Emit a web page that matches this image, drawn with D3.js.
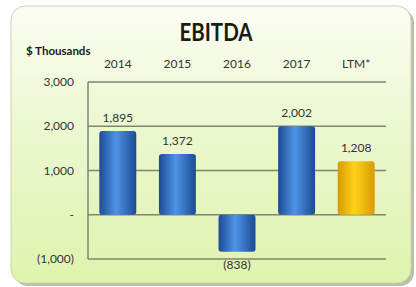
<!DOCTYPE html>
<html lang="en">
<head>
<meta charset="utf-8">
<script src="https://d3js.org/d3.v7.min.js"></script>
<style>
  body { margin: 0; background: #fff; }
  text { font-family: Lato, "Open Sans", sans-serif; fill: #333; }
</style>
</head>
<body>
<div id="chart"></div>
<script>
// chart data
const categories = ["2014", "2015", "2016", "2017", "LTM*"];
const ebitda = [1895, 1372, -838, 2002, 1208];
const highlight = ["LTM*"];
const tickValues = [-1000, 0, 1000, 2000, 3000];

const W = 416, H = 287;
const margin = {top: 82, right: 30, bottom: 28, left: 88};

const svg = d3.select("#chart").append("svg")
  .attr("width", W).attr("height", H);

const defs = svg.append("defs");

const panelGrad = defs.append("linearGradient").attr("id", "panel")
  .attr("x1", 0).attr("y1", 0).attr("x2", 0).attr("y2", 1);
panelGrad.append("stop").attr("offset", "0%").attr("stop-color", "#fbfdf3");
panelGrad.append("stop").attr("offset", "35%").attr("stop-color", "#eef8d6");
panelGrad.append("stop").attr("offset", "100%").attr("stop-color", "#dff3ac");

function cylinder(id, edge, mid) {
  const g = defs.append("linearGradient").attr("id", id)
    .attr("x1", 0).attr("y1", 0).attr("x2", 1).attr("y2", 0);
  g.append("stop").attr("offset", "0%").attr("stop-color", edge);
  g.append("stop").attr("offset", "45%").attr("stop-color", mid);
  g.append("stop").attr("offset", "100%").attr("stop-color", edge);
}
cylinder("blueBar", "#1c4b94", "#4f93e6");
cylinder("goldBar", "#d99a00", "#ffd21a");

// panel with shadow
svg.append("rect")
  .attr("x", 14).attr("y", 9).attr("width", 400).attr("height", 277)
  .attr("rx", 14).attr("fill", "#b9c0a6");
svg.append("rect")
  .attr("x", 11).attr("y", 6).attr("width", 400).attr("height", 277)
  .attr("rx", 14).attr("fill", "url(#panel)")
  .attr("stroke", "#c9d3b0").attr("stroke-width", 1);

const width = W - margin.left - margin.right;   // 298
const height = H - margin.top - margin.bottom;

const x = d3.scaleBand().domain(categories)
  .range([margin.left, margin.left + width]).paddingInner(0.38).paddingOuter(0.19);
const y = d3.scaleLinear().domain([-1000, 3000])
  .range([259, 82]);

// gridlines
svg.append("g").selectAll("line")
  .data(tickValues).join("line")
  .attr("x1", margin.left).attr("x2", margin.left + width)
  .attr("y1", d => y(d)).attr("y2", d => y(d))
  .attr("stroke", "#7f8474").attr("stroke-width", 1.5);

// left axis line
svg.append("line")
  .attr("x1", margin.left).attr("x2", margin.left)
  .attr("y1", y(3000)).attr("y2", y(-1000))
  .attr("stroke", "#7f8474").attr("stroke-width", 1.5);

// y tick labels
const fmt = v => v === 0 ? "-" : v < 0 ? "(" + d3.format(",")(-v) + ")" : d3.format(",")(v);
svg.append("g").selectAll("text")
  .data(tickValues).join("text")
  .attr("x", 74).attr("y", d => y(d)).attr("dy", "0.35em")
  .attr("text-anchor", "end").attr("font-size", 12)
  .text(fmt);

// category labels along the top
svg.append("g").selectAll("text")
  .data(categories).join("text")
  .attr("x", d => x(d) + x.bandwidth() / 2).attr("y", 64).attr("dy", "0.35em")
  .attr("text-anchor", "middle").attr("font-size", 12)
  .text(d => d);

// bars
svg.append("g").selectAll("rect")
  .data(categories).join("rect")
  .attr("x", d => x(d))
  .attr("width", x.bandwidth())
  .attr("y", (d, i) => y(Math.max(0, ebitda[i])))
  .attr("height", (d, i) => Math.abs(y(ebitda[i]) - y(0)))
  .attr("rx", 3)
  .attr("fill", d => highlight.includes(d) ? "url(#goldBar)" : "url(#blueBar)");

// value labels
svg.append("g").selectAll("text")
  .data(categories).join("text")
  .attr("x", d => x(d) + x.bandwidth() / 2)
  .attr("y", (d, i) => ebitda[i] >= 0 ? y(ebitda[i]) - 13 : y(ebitda[i]) + 13)
  .attr("dy", "0.35em")
  .attr("text-anchor", "middle").attr("font-size", 12)
  .text((d, i) => fmt(ebitda[i]));

// titles
svg.append("text")
  .attr("x", 216).attr("y", 41)
  .attr("text-anchor", "middle").attr("font-size", 24).attr("font-weight", "bold")
  .attr("textLength", 73).attr("lengthAdjust", "spacingAndGlyphs")
  .style("fill", "#1a1a1a")
  .text("EBITDA");
svg.append("text")
  .attr("x", 26).attr("y", 51).attr("dy", "0.35em")
  .attr("font-size", 11.5).attr("font-weight", "bold")
  .style("fill", "#1a1a1a")
  .text("$ Thousands");
</script>
</body>
</html>
